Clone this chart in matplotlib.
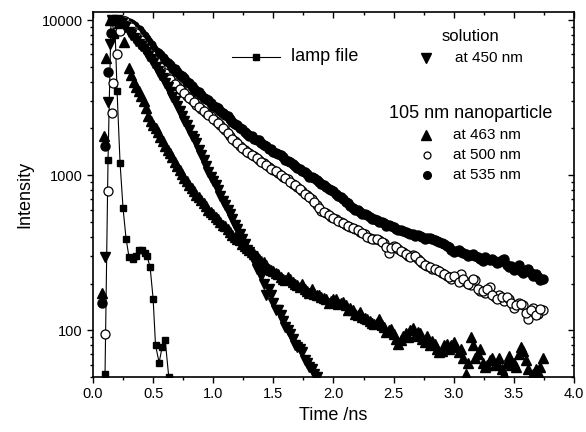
import numpy as np
import matplotlib
matplotlib.use('Agg')
import matplotlib.pyplot as plt

plt.rcParams['font.family'] = ['Liberation Sans', 'DejaVu Sans']

# lamp profile (instrument response)
lamp_t = [0.10, 0.125, 0.15, 0.185, 0.20, 0.225, 0.25, 0.275, 0.30, 0.33, 0.355, 0.38,
          0.405, 0.43, 0.45, 0.475, 0.50, 0.52, 0.55, 0.575, 0.60, 0.63]
lamp_i = [52, 1260, 10000, 8000, 3500, 1200, 610, 390, 295, 290, 300, 330,
          330, 315, 300, 255, 160, 80, 62, 78, 87, 50]

# rising edges
rise_t_535 = [0.075, 0.10, 0.125, 0.15, 0.18, 0.22, 0.26]
rise_i_535 = [150, 1550, 4600, 8300, 10000, 10000, 9900]
rise_t_500 = [0.10, 0.125, 0.155, 0.17, 0.20, 0.225, 0.25, 0.27]
rise_i_500 = [94, 790, 2500, 3900, 6000, 8500, 9800, 9900]
rise_t_463 = [0.075, 0.09, 0.11, 0.14, 0.18, 0.22, 0.26]
rise_i_463 = [175, 1780, 5700, 10000, 10000, 9500, 7200]
rise_t_450 = [0.10, 0.125, 0.14, 0.16, 0.20, 0.24, 0.27]
rise_i_450 = [295, 2950, 7000, 10000, 10000, 9600, 9000]

# decay channels: even ones 0.30 .. 3.74 ns, odd ones 0.32 .. 3.72 ns
t_even = np.linspace(0.30, 3.74, 87)
t_odd = np.linspace(0.32, 3.72, 86)

even_535 = [9500, 9100, 8600, 7900, 7200, 6500, 6100, 5700, 5300, 4900,
            4650, 4350, 4000, 3750, 3500, 3300, 3100, 2900, 2750, 2600,
            2450, 2300, 2150, 2000, 1900, 1800, 1720, 1680, 1560, 1480,
            1420, 1370, 1300, 1230, 1180, 1120, 1060, 1010, 970, 930,
            880, 840, 800, 760, 720, 670, 630, 600, 580, 560,
            540, 520, 500, 490, 475, 460, 445, 435, 425, 415,
            410, 400, 395, 385, 375, 365, 350, 330, 325, 320,
            310, 305, 300, 290, 295, 285, 280, 275, 290, 255,
            245, 265, 235, 250, 225, 220, 215]
odd_535 = [9400, 8800, 8300, 7500, 6900, 6200, 5950, 5450, 5150, 4800,
           4450, 4200, 3900, 3600, 3450, 3150, 3050, 2800, 2700, 2500,
           2400, 2200, 2100, 1970, 1830, 1780, 1690, 1600, 1530, 1470,
           1380, 1350, 1260, 1220, 1140, 1100, 1050, 980, 960, 900,
           870, 810, 790, 730, 700, 660, 610, 595, 565, 550,
           525, 515, 500, 470, 470, 450, 445, 430, 420, 405,
           405, 390, 395, 380, 370, 360, 345, 320, 330, 315,
           300, 310, 295, 280, 290, 290, 270, 285, 265, 260,
           250, 240, 245, 235, 230, 210]

even_500 = [9300, 8600, 7800, 7000, 6300, 5700, 5200, 4800, 4350, 4000,
            3750, 3500, 3250, 3050, 2850, 2650, 2500, 2400, 2250, 2100,
            1950, 1800, 1650, 1550, 1450, 1380, 1320, 1250, 1200, 1130,
            1080, 1030, 980, 940, 880, 840, 790, 740, 700, 640,
            590, 570, 540, 520, 500, 480, 460, 450, 430, 420,
            395, 385, 380, 365, 315, 350, 335, 320, 300, 305,
            290, 270, 260, 250, 245, 235, 225, 215, 220, 230,
            205, 195, 210, 180, 175, 190, 165, 170, 155, 160,
            140, 150, 145, 118, 140, 128, 135]
odd_500 = [9000, 8200, 7400, 6700, 6000, 5450, 5000, 4550, 4150, 3850,
           3600, 3400, 3150, 2950, 2750, 2580, 2450, 2300, 2180, 2000,
           1880, 1720, 1600, 1500, 1420, 1350, 1290, 1220, 1160, 1100,
           1060, 1000, 960, 910, 860, 810, 760, 720, 670, 610,
           580, 555, 530, 510, 490, 470, 455, 440, 425, 400,
           390, 390, 370, 345, 340, 345, 325, 310, 295, 300,
           280, 265, 255, 250, 240, 230, 220, 225, 205, 215,
           200, 215, 185, 180, 185, 170, 160, 165, 165, 150,
           145, 148, 130, 135, 125, 138]

even_463 = [4900, 4000, 3500, 3000, 2400, 2100, 1900, 1650, 1450, 1300,
            1150, 1020, 920, 830, 750, 690, 630, 580, 540, 500,
            470, 430, 400, 380, 350, 330, 310, 290, 275, 250,
            240, 230, 215, 220, 205, 195, 200, 180, 185, 170,
            165, 160, 155, 158, 150, 145, 140, 128, 132, 120,
            115, 110, 118, 105, 100, 95, 82, 92, 90, 104,
            98, 88, 92, 85, 76, 74, 82, 80, 78, 76,
            52, 90, 66, 76, 58, 64, 60, 66, 52, 68,
            62, 70, 74, 56, 52, 54, 66]
odd_463 = [4400, 3700, 3250, 2700, 2250, 2000, 1750, 1550, 1380, 1220,
           1080, 960, 870, 790, 720, 660, 600, 560, 520, 480,
           450, 410, 390, 360, 340, 320, 300, 280, 265, 245,
           235, 220, 210, 215, 200, 190, 185, 175, 172, 168,
           162, 150, 160, 148, 152, 135, 135, 125, 122, 118,
           112, 112, 108, 98, 102, 88, 86, 96, 100, 92,
           96, 84, 80, 82, 72, 80, 76, 84, 72, 66,
           62, 80, 70, 62, 60, 66, 62, 56, 62, 60,
           58, 78, 64, 50, 56, 58]

even_450 = [8400, 7700, 7000, 6500, 5900, 5300, 4700, 4200, 3700, 3200,
            2800, 2400, 2100, 1800, 1600, 1350, 1150, 980, 860, 730,
            640, 560, 480, 420, 360, 320, 280, 240, 200, 185,
            150, 135, 115, 100, 88, 78, 72, 62, 56, 50]
odd_450 = [8000, 7300, 6800, 6200, 5600, 5000, 4450, 3900, 3450,
           3000, 2600, 2250, 1950, 1700, 1450, 1250, 1050, 920, 800,
           680, 600, 520, 450, 390, 330, 300, 250, 225, 170,
           170, 135, 125, 105, 94, 80, 76, 64, 58, 52]

t535 = np.concatenate([rise_t_535, t_even, t_odd])
i535 = np.concatenate([rise_i_535, even_535, odd_535])
t500 = np.concatenate([rise_t_500, t_even, t_odd])
i500 = np.concatenate([rise_i_500, even_500, odd_500])
t463 = np.concatenate([rise_t_463, t_even, t_odd])
i463 = np.concatenate([rise_i_463, even_463, odd_463])
t450 = np.concatenate([rise_t_450, t_even[:len(even_450)], t_odd[:len(odd_450)]])
i450 = np.concatenate([rise_i_450, even_450, odd_450])

fig = plt.figure(figsize=(5.86, 4.32), dpi=100)
ax = fig.add_axes([0.1587, 0.1273, 0.8208, 0.8449])

ax.plot(lamp_t, lamp_i, 'k-', lw=0.8, marker='s', ms=5, mfc='k', mec='k')
ax.plot(t535, i535, 'o', ms=6.5, mfc='k', mec='k', ls='none')
ax.plot(t500, i500, 'o', ms=6.5, mfc='white', mec='k', mew=0.9, ls='none')
ax.plot(t463, i463, '^', ms=7.2, mfc='k', mec='k', ls='none')
ax.plot(t450, i450, 'v', ms=7.2, mfc='k', mec='k', ls='none')

ax.set_yscale('log')
ax.set_xlim(0, 4.0)
ax.set_ylim(50, 11260)
ax.set_xticks(np.arange(0, 4.01, 0.5))
ax.set_xticks(np.arange(0.25, 4.0, 0.5), minor=True)
ax.set_xticklabels(['%.1f' % v for v in np.arange(0, 4.01, 0.5)])
ax.set_yticks([100, 1000, 10000])
ax.set_yticklabels(['100', '1000', '10000'])
ax.yaxis.set_minor_formatter(matplotlib.ticker.NullFormatter())

ax.tick_params(which='both', direction='out', labelsize=10.5, width=1)
ax.tick_params(which='major', length=4)
ax.tick_params(which='minor', length=2.5)
ax.tick_params(which='both', top=True, right=True)
# top and right ticks point inwards
for tk in ax.xaxis.get_major_ticks() + ax.xaxis.get_minor_ticks():
    tk.tick2line.set_marker(matplotlib.lines.TICKDOWN)
for tk in ax.yaxis.get_major_ticks() + ax.yaxis.get_minor_ticks():
    tk.tick2line.set_marker(matplotlib.lines.TICKLEFT)
for s in ax.spines.values():
    s.set_linewidth(1.2)

ax.set_xlabel('Time /ns', fontsize=13)
ax.set_ylabel('Intensity', fontsize=13, labelpad=6)

# legend drawn by hand
tr = ax.transAxes
ax.plot([0.289, 0.389], [0.877, 0.877], 'k-', lw=0.8, transform=tr, clip_on=False)
ax.plot([0.339], [0.877], 's', ms=5, color='k', transform=tr, clip_on=False)
ax.text(0.412, 0.877, 'lamp file', transform=tr, fontsize=13, va='center', ha='left')

ax.text(0.784, 0.934, 'solution', transform=tr, fontsize=12, va='center', ha='center')
ax.plot([0.692], [0.874], 'v', ms=6.5, color='k', transform=tr, clip_on=False)
ax.text(0.753, 0.874, 'at 450 nm', transform=tr, fontsize=11, va='center', ha='left')

ax.text(0.786, 0.723, '105 nm nanoparticle', transform=tr, fontsize=13, va='center', ha='center')
ax.plot([0.692], [0.663], '^', ms=6.5, color='k', transform=tr, clip_on=False)
ax.text(0.748, 0.663, 'at 463 nm', transform=tr, fontsize=11, va='center', ha='left')
ax.plot([0.694], [0.608], 'o', ms=5, mfc='white', mec='k', mew=0.9, transform=tr, clip_on=False)
ax.text(0.748, 0.608, 'at 500 nm', transform=tr, fontsize=11, va='center', ha='left')
ax.plot([0.694], [0.553], 'o', ms=5.5, color='k', transform=tr, clip_on=False)
ax.text(0.748, 0.553, 'at 535 nm', transform=tr, fontsize=11, va='center', ha='left')

fig.savefig('out.png', dpi=100)
